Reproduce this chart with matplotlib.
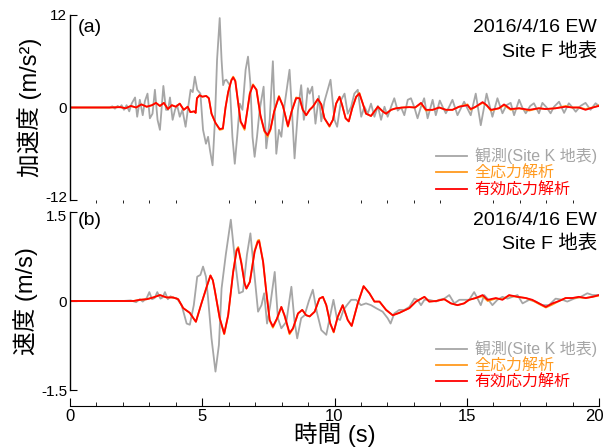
import matplotlib
matplotlib.use("Agg")
import matplotlib.pyplot as plt
from matplotlib.ticker import MultipleLocator
from matplotlib.transforms import ScaledTranslation

plt.rcParams['font.family'] = ['Liberation Sans', 'Noto Sans CJK JP', 'DejaVu Sans']

# ---------------- data (time s, value) ----------------
acc_obs = [(0, 0), (1.5, 0), (1.6, 0.15), (1.7, -0.15), (1.8, 0.2), (1.89, 0.0), (1.95, 0.3), (2.04, -0.3),
           (2.14, 0.3), (2.24, -0.5), (2.33, 0.5), (2.46, 1.3), (2.54, -1.2), (2.64, 1.0), (2.75, -1.0),
           (2.83, 0.8), (2.93, 1.8), (3.02, -1.4), (3.12, -0.8), (3.21, 2.3), (3.31, -1.6), (3.4, -2.9),
           (3.53, 2.8), (3.63, -0.3), (3.71, -0.3), (3.78, 1.3), (3.88, -1.6), (3.97, -0.3), (4.05, 0.3),
           (4.15, -1.2), (4.25, -0.3), (4.37, -2.5), (4.47, 0.1), (4.56, 2.3), (4.64, 2.0), (4.72, 4.0),
           (4.81, 2.3), (4.93, 1.8), (5.03, -2.9), (5.14, -4.7), (5.22, -3.8), (5.29, -5.5), (5.39, -7.5),
           (5.48, -1.6), (5.56, 6.2), (5.66, 11.6), (5.73, 6.2), (5.79, 2.9), (5.85, 3.5), (5.91, 3.6),
           (6.04, 2.9), (6.14, -3.8), (6.23, -7.3), (6.32, -3.8), (6.42, 0.5), (6.52, -0.3), (6.64, 4.9),
           (6.73, 6.6), (6.82, 3.1), (6.9, -3.8), (6.98, -6.4), (7.07, -3.8), (7.17, -0.3), (7.32, 2.7),
           (7.42, -5.3), (7.55, -1.6), (7.67, 6.0), (7.8, -6.0), (7.9, -2.9), (7.99, -3.8), (8.11, 0.3),
           (8.3, 4.9), (8.39, -0.3), (8.49, -6.6), (8.62, -0.3), (8.74, 2.9), (8.84, -1.6), (8.91, -0.3),
           (8.99, 2.5), (9.06, 1.8), (9.16, 2.7), (9.28, -2.1), (9.41, 1.5), (9.5, -1.8), (9.62, 0.8),
           (9.72, 2.0), (9.85, 3.6), (10.0, -1.6), (10.1, -2.5), (10.25, 1.0), (10.38, 1.8), (10.5, -0.8),
           (10.63, 0.1), (10.75, 1.8), (10.88, 2.3), (11.01, -1.2), (11.13, 0.1), (11.26, -0.8), (11.38, 0.5),
           (11.51, -1.2), (11.64, 0.2), (11.76, -1.6), (11.89, 0.1), (12.01, -1.2), (12.14, 0.1), (12.26, 1.2),
           (12.39, -0.4), (12.52, 0.0), (12.64, -1.0), (12.77, 1.0), (12.89, 1.2), (13.02, 0.0), (13.14, -1.4),
           (13.26, 0.0), (13.39, 1.2), (13.52, -1.4), (13.71, 1.0), (13.83, -1.0), (13.98, 0.9), (14.1, 0.0),
           (14.21, -0.75), (14.35, 0.2), (14.46, 1.0), (14.65, -1.0), (14.9, 0.75), (15.15, -1.0), (15.34, 1.8),
           (15.53, -2.3), (15.75, 1.8), (15.97, -1.2), (16.16, 1.2), (16.35, -0.75), (16.5, 0.3), (16.66, 0.6),
           (16.79, -1.0), (16.98, 1.0), (17.1, 0.0), (17.23, -0.75), (17.4, 0.2), (17.54, 0.55), (17.73, -0.75),
           (17.86, 0.6), (18.02, 0.0), (18.17, -0.75), (18.3, 0.1), (18.49, 0.75), (18.68, -0.7), (18.86, 0.55),
           (19.0, 0.0), (19.12, -0.55), (19.3, 0.2), (19.49, 0.6), (19.68, -0.3), (19.87, 0.55), (20.0, 0.2)]

acc_total = [(0, 0), (1.5, 0), (1.9, 0.05), (2.1, -0.1), (2.3, 0.2), (2.5, 0.0), (2.7, 0.4), (2.9, 0.1),
             (3.1, 0.3), (3.25, 0.6), (3.4, 0.2), (3.55, 0.6), (3.7, -0.2), (3.85, 0.3), (4.0, 0.1), (4.15, 0.5),
             (4.3, -0.3), (4.45, 0.1), (4.55, -0.6), (4.7, -0.5), (4.75, -0.7), (4.8, 1.2), (4.9, 1.6), (5.0, 1.4),
             (5.15, 1.5), (5.25, 1.2), (5.35, -0.8), (5.5, -2.0), (5.66, -2.9), (5.78, -2.8), (5.88, 0.0),
             (5.98, 2.0), (6.1, 3.6), (6.17, 4.0), (6.25, 3.5), (6.35, 0.8), (6.45, -1.9), (6.6, -2.9),
             (6.7, -0.5), (6.8, 1.9), (6.92, 3.0), (7.05, 2.3), (7.2, -1.1), (7.35, -3.1), (7.47, -3.8),
             (7.58, -2.9), (7.72, -0.5), (7.9, 1.5), (8.05, 0.2), (8.24, -2.5), (8.38, -0.5), (8.55, 1.3),
             (8.68, 1.2), (8.8, -0.3), (8.93, -1.0), (9.06, -0.3), (9.18, 0.1), (9.37, 1.1), (9.5, 0.4),
             (9.62, -1.4), (9.81, -2.5), (9.94, -1.6), (10.06, 0.5), (10.19, 1.4), (10.29, 0.3), (10.42, -1.4),
             (10.54, -1.8), (10.67, -0.1), (10.82, 1.4), (10.94, 1.9), (11.07, 0.5), (11.19, -0.8), (11.38, -1.1),
             (11.51, -0.5), (11.64, 0.1), (11.82, -0.5), (11.95, -0.8), (12.14, -0.3), (12.33, -0.1),
             (12.58, 0.0), (12.83, 0.05), (13.05, 0.0), (13.27, 0.5), (13.46, -0.4), (13.71, -0.3), (13.96, 0.0),
             (14.21, -0.3), (14.46, -0.3), (14.71, 0.1), (15.03, 0.4), (15.15, -0.3), (15.34, 0.1), (15.6, 0.6),
             (15.75, 0.3), (15.91, -0.4), (16.22, -0.1), (16.41, 0.3), (16.66, -0.3), (16.98, -0.1),
             (17.36, -0.4), (17.73, -0.1), (17.98, -0.2), (18.36, -0.1), (18.74, 0.2), (18.99, 0.0),
             (19.24, 0.0), (19.49, -0.2), (19.87, 0.1), (20.0, 0.3)]

acc_effective = [(0, 0), (1.5, 0), (1.9, 0.05), (2.1, -0.1), (2.3, 0.2), (2.5, 0.0), (2.7, 0.4), (2.9, 0.1),
                 (3.1, 0.3), (3.25, 0.6), (3.4, 0.2), (3.55, 0.6), (3.7, -0.2), (3.85, 0.3), (4.0, 0.1),
                 (4.15, 0.5), (4.3, -0.3), (4.45, 0.1), (4.55, -0.6), (4.7, -0.5), (4.75, -0.7), (4.8, 1.2),
                 (4.9, 1.6), (5.0, 1.4), (5.15, 1.5), (5.25, 1.2), (5.35, -0.8), (5.5, -2.0), (5.66, -2.8),
                 (5.78, -2.7), (5.88, 0.0), (5.98, 2.0), (6.1, 3.5), (6.17, 3.9), (6.25, 3.4), (6.35, 0.8),
                 (6.45, -1.8), (6.6, -2.7), (6.7, -0.5), (6.8, 1.8), (6.92, 2.9), (7.05, 2.3), (7.2, -1.0),
                 (7.35, -3.0), (7.47, -3.6), (7.58, -2.8), (7.72, -0.5), (7.9, 1.4), (8.05, 0.2), (8.24, -2.4),
                 (8.38, -0.5), (8.55, 1.2), (8.68, 1.2), (8.8, -0.3), (8.93, -1.0), (9.06, -0.3), (9.18, 0.1),
                 (9.37, 1.1), (9.5, 0.4), (9.62, -1.4), (9.81, -2.4), (9.94, -1.6), (10.06, 0.5), (10.19, 1.4),
                 (10.29, 0.3), (10.42, -1.4), (10.54, -1.8), (10.67, -0.1), (10.82, 1.4), (10.94, 1.8),
                 (11.07, 0.5), (11.19, -0.8), (11.38, -1.1), (11.51, -0.5), (11.64, 0.1), (11.82, -0.5),
                 (11.95, -0.8), (12.14, -0.3), (12.33, -0.1), (12.58, 0.0), (12.83, 0.05), (13.05, 0.0),
                 (13.27, 0.6), (13.46, -0.3), (13.71, -0.3), (13.96, 0.0), (14.21, -0.3), (14.46, -0.3),
                 (14.71, 0.1), (15.03, 0.3), (15.15, -0.2), (15.34, 0.1), (15.6, 0.7), (15.75, 0.3),
                 (15.91, -0.3), (16.22, -0.1), (16.41, 0.4), (16.66, -0.2), (16.98, -0.1), (17.36, -0.3),
                 (17.73, -0.1), (17.98, -0.2), (18.36, -0.1), (18.74, 0.1), (18.99, 0.0), (19.24, 0.0),
                 (19.49, -0.3), (19.87, 0.1), (20.0, 0.2)]

vel_obs = [(0, 0), (2.0, 0.0), (2.3, 0.01), (2.5, -0.02), (2.64, 0.03), (2.75, -0.01), (2.9, 0.05), (3.0, 0.15),
           (3.1, 0.03), (3.2, 0.05), (3.3, 0.15), (3.42, 0.04), (3.5, 0.06), (3.59, 0.15), (3.7, 0.03),
           (3.8, 0.08), (3.9, 0.05), (4.03, 0.05), (4.22, -0.07), (4.41, -0.38), (4.53, -0.4), (4.68, -0.07),
           (4.81, 0.41), (4.93, 0.44), (5.03, 0.58), (5.14, 0.41), (5.22, 0.05), (5.35, -0.63), (5.5, -1.19),
           (5.63, -0.74), (5.73, 0.21), (5.89, 0.78), (6.08, 1.37), (6.23, 0.72), (6.39, 0.13), (6.54, 0.16),
           (6.69, 0.78), (6.82, 1.14), (6.95, 0.55), (7.11, -0.18), (7.24, -0.07), (7.34, 0.13), (7.45, -0.38),
           (7.57, -0.07), (7.74, 0.49), (7.86, -0.29), (7.99, -0.46), (8.18, -0.35), (8.37, 0.24), (8.49, -0.35),
           (8.59, -0.63), (8.74, -0.29), (8.87, -0.24), (9.03, 0.0), (9.18, 0.19), (9.33, -0.18), (9.5, -0.49),
           (9.69, -0.57), (9.84, -0.24), (9.96, 0.02), (10.09, -0.29), (10.21, -0.32), (10.34, -0.15),
           (10.47, -0.07), (10.63, 0.02), (10.82, 0.02), (11.0, -0.07), (11.19, -0.04), (11.38, -0.07),
           (11.57, -0.12), (11.82, -0.18), (12.01, -0.29), (12.12, -0.38), (12.26, -0.21), (12.45, -0.15),
           (12.64, -0.15), (12.83, -0.1), (13.02, 0.04), (13.14, 0.02), (13.27, -0.07), (13.4, 0.02),
           (13.58, 0.02), (13.84, -0.01), (13.96, 0.02), (14.15, 0.04), (14.34, 0.1), (14.53, -0.04),
           (14.72, 0.02), (14.9, 0.02), (15.09, 0.02), (15.28, 0.15), (15.41, 0.04), (15.53, -0.07),
           (15.66, 0.1), (15.82, 0.02), (15.97, -0.07), (16.16, 0.02), (16.35, 0.07), (16.54, 0.04),
           (16.73, 0.07), (16.92, 0.1), (17.11, -0.04), (17.36, 0.02), (17.61, -0.01), (17.86, -0.07),
           (18.11, -0.07), (18.36, 0.04), (18.62, 0.02), (18.8, -0.01), (19.06, 0.04), (19.31, 0.07),
           (19.56, 0.13), (19.75, 0.1), (20.0, 0.1)]

vel_total = [(0, 0), (2.0, 0.0), (2.4, 0.0), (2.64, 0.02), (2.9, 0.03), (3.15, 0.06), (3.4, 0.1), (3.65, 0.06),
             (3.9, 0.06), (4.09, 0.03), (4.28, -0.12), (4.53, -0.2), (4.65, -0.28), (4.76, -0.35), (4.97, -0.04),
             (5.19, 0.27), (5.31, 0.43), (5.4, 0.35), (5.47, 0.19), (5.66, -0.29), (5.83, -0.56), (5.98, -0.24),
             (6.17, 0.5), (6.3, 0.87), (6.36, 0.91), (6.48, 0.65), (6.6, 0.3), (6.67, 0.21), (6.8, 0.33),
             (6.98, 0.85), (7.1, 1.02), (7.15, 1.03), (7.3, 0.67), (7.42, 0.16), (7.55, -0.33), (7.67, -0.45),
             (7.82, -0.31), (7.99, -0.1), (8.11, -0.25), (8.3, -0.56), (8.43, -0.47), (8.62, -0.21),
             (8.78, -0.15), (8.93, -0.24), (9.06, -0.26), (9.25, -0.18), (9.43, 0.04), (9.56, 0.07),
             (9.69, -0.07), (9.84, -0.38), (9.97, -0.53), (10.12, -0.27), (10.31, -0.07), (10.5, -0.32),
             (10.65, -0.42), (10.88, -0.04), (11.1, 0.25), (11.32, 0.13), (11.51, -0.01), (11.7, -0.01),
             (11.95, -0.15), (12.2, -0.24), (12.45, -0.2), (12.83, -0.12), (13.08, -0.01), (13.4, 0.07),
             (13.58, -0.01), (13.84, 0.0), (14.15, 0.03), (14.4, -0.04), (14.65, -0.07), (14.9, -0.04),
             (15.09, 0.02), (15.34, 0.05), (15.6, 0.08), (15.79, 0.0), (16.1, 0.04), (16.35, 0.03), (16.6, 0.09),
             (16.92, 0.07), (17.23, 0.05), (17.48, 0.01), (17.73, -0.05), (17.99, -0.11), (18.24, -0.06),
             (18.49, 0.0), (18.74, 0.05), (18.99, 0.05), (19.24, 0.06), (19.5, 0.05), (19.75, 0.07), (20.0, 0.09)]

vel_effective = [(0, 0), (2.0, 0.0), (2.4, 0.0), (2.64, 0.02), (2.9, 0.03), (3.15, 0.06), (3.4, 0.1),
                 (3.65, 0.06), (3.9, 0.06), (4.09, 0.03), (4.28, -0.12), (4.53, -0.2), (4.65, -0.28),
                 (4.76, -0.35), (4.97, -0.04), (5.19, 0.27), (5.31, 0.43), (5.4, 0.35), (5.47, 0.19),
                 (5.66, -0.29), (5.83, -0.55), (5.98, -0.24), (6.17, 0.49), (6.3, 0.85), (6.36, 0.89),
                 (6.48, 0.63), (6.6, 0.3), (6.67, 0.21), (6.8, 0.32), (6.98, 0.83), (7.1, 1.0), (7.15, 1.01),
                 (7.3, 0.66), (7.42, 0.16), (7.55, -0.32), (7.67, -0.43), (7.82, -0.3), (7.99, -0.1),
                 (8.11, -0.24), (8.3, -0.54), (8.43, -0.46), (8.62, -0.21), (8.78, -0.15), (8.93, -0.24),
                 (9.06, -0.26), (9.25, -0.18), (9.43, 0.04), (9.56, 0.07), (9.69, -0.07), (9.84, -0.38),
                 (9.97, -0.52), (10.12, -0.27), (10.31, -0.07), (10.5, -0.32), (10.65, -0.42), (10.88, -0.04),
                 (11.1, 0.25), (11.32, 0.13), (11.51, -0.01), (11.7, -0.01), (11.95, -0.15), (12.2, -0.24),
                 (12.45, -0.2), (12.83, -0.12), (13.08, -0.01), (13.4, 0.07), (13.58, -0.01), (13.84, 0.0),
                 (14.15, 0.03), (14.4, -0.04), (14.65, -0.07), (14.9, -0.04), (15.09, 0.02), (15.34, 0.05),
                 (15.6, 0.1), (15.79, 0.02), (16.1, 0.05), (16.35, 0.02), (16.6, 0.1), (16.92, 0.07),
                 (17.23, 0.05), (17.48, 0.02), (17.73, -0.04), (17.99, -0.1), (18.24, -0.04), (18.49, 0.0),
                 (18.74, 0.05), (18.99, 0.05), (19.24, 0.07), (19.5, 0.05), (19.75, 0.07), (20.0, 0.1)]

labels = ['観測(Site K 地表)', '全応力解析', '有効応力解析']
colors = ['#A6A6A6', '#FF9A1F', '#FF0000']
title_lines = ['2016/4/16 EW', 'Site F 地表']
panel_tags = ['(a)', '(b)']
ylabels = ['加速度 (m/s²)', '速度 (m/s)']
xlabel = '時間 (s)'
acc_ticks = [-12, 0, 12]
acc_ticklabels = ['-12', '0', '12']
vel_ticks = [-1.5, 0, 1.5]
vel_ticklabels = ['-1.5', '0', '1.5']
x_ticks = [0, 5, 10, 15, 20]


def unzip(pairs):
    return [p[0] for p in pairs], [p[1] for p in pairs]


fig = plt.figure(figsize=(6.06, 4.48), dpi=100)
ax1 = fig.add_axes([70 / 606, 1 - 200 / 448, 529 / 606, 185 / 448])
ax2 = fig.add_axes([70 / 606, 1 - 390 / 448, 529 / 606, 178 / 448], sharex=ax1)

panels = [(ax1, [acc_obs, acc_total, acc_effective], acc_ticks, acc_ticklabels),
          (ax2, [vel_obs, vel_total, vel_effective], vel_ticks, vel_ticklabels)]

for i, (ax, series, yt, ytl) in enumerate(panels):
    for s, c, lab in zip(series, colors, labels):
        t, v = unzip(s)
        ax.plot(t, v, color=c, lw=1.3, label=lab)
    ax.set_ylim(yt[0], yt[-1])
    ax.set_yticks(yt)
    ax.set_yticklabels(ytl)
    ax.set_xlim(0, 20)
    for sp in ['top', 'right']:
        ax.spines[sp].set_visible(False)
    ax.spines['left'].set_linewidth(1.0)
    ax.tick_params(axis='y', direction='in', length=5, labelsize=11, pad=2)
    ax.set_ylabel(ylabels[i], fontsize=17, labelpad=2)
    ax.text(0.015, 0.93 if i == 0 else 0.95, panel_tags[i], transform=ax.transAxes,
            fontsize=14, ha='left', va='center')
    ax.text(0.996, 0.93 if i == 0 else 0.95, title_lines[0], transform=ax.transAxes,
            fontsize=14, ha='right', va='center')
    ax.text(0.996, 0.80 if i == 0 else 0.82, title_lines[1], transform=ax.transAxes,
            fontsize=14, ha='right', va='center')
    ax.legend(loc='lower right', bbox_to_anchor=(0.996, 0.015 if i == 0 else 0.0),
              frameon=False, fontsize=11.5, handlelength=1.9, handletextpad=0.5,
              labelspacing=0.08, borderpad=0, borderaxespad=0, labelcolor='linecolor')

ax1.spines['bottom'].set_visible(False)
ax1.tick_params(axis='x', bottom=False, labelbottom=False)

ax2.spines['bottom'].set_position(('outward', 11.5))
ax2.set_xticks(x_ticks)
ax2.xaxis.set_minor_locator(MultipleLocator(1))
ax2.tick_params(axis='x', which='major', direction='in', length=6, labelsize=12, pad=2)
ax2.tick_params(axis='x', which='minor', direction='in', length=3)
ax2.set_xlabel(xlabel, fontsize=17, labelpad=-1)

# nudge crowded tick labels apart (as in the reference)
fig.canvas.draw()
lab_low = ax1.yaxis.get_major_ticks()[0].label1
lab_low.set_transform(lab_low.get_transform() + ScaledTranslation(0, 2.5 / 72, fig.dpi_scale_trans))
lab_high = ax2.yaxis.get_major_ticks()[-1].label1
lab_high.set_transform(lab_high.get_transform() + ScaledTranslation(0, -2.5 / 72, fig.dpi_scale_trans))
lab_20 = ax2.xaxis.get_major_ticks()[-1].label1
lab_20.set_transform(lab_20.get_transform() + ScaledTranslation(-3 / 72, 0, fig.dpi_scale_trans))

fig.savefig('out.png', dpi=100)
